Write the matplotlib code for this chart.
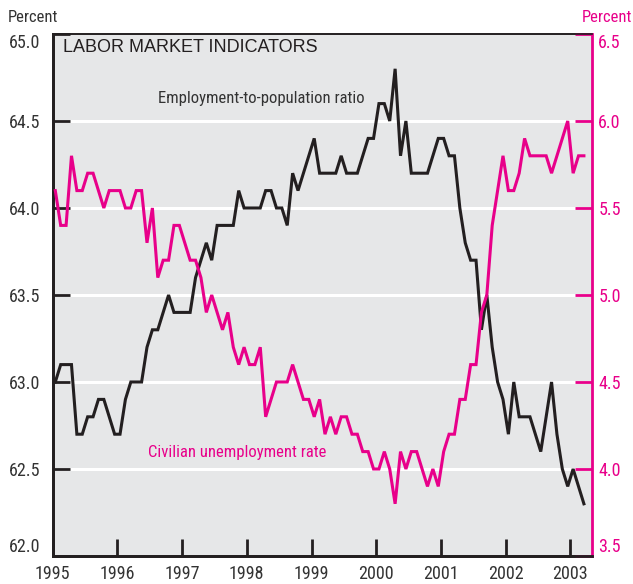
import matplotlib
matplotlib.use("Agg")
import matplotlib.pyplot as plt
from matplotlib import font_manager as fm
import numpy as np

# ---- data (monthly, Jan 1995 - Mar 2003) ----
start_year = 1995
employment_to_population = [
    63.0, 63.1, 63.1, 63.1, 62.7, 62.7, 62.8, 62.8, 62.9, 62.9, 62.8, 62.7,  # 1995
    62.7, 62.9, 63.0, 63.0, 63.0, 63.2, 63.3, 63.3, 63.4, 63.5, 63.4, 63.4,  # 1996
    63.4, 63.4, 63.6, 63.7, 63.8, 63.7, 63.9, 63.9, 63.9, 63.9, 64.1, 64.0,  # 1997
    64.0, 64.0, 64.0, 64.1, 64.1, 64.0, 64.0, 63.9, 64.2, 64.1, 64.2, 64.3,  # 1998
    64.4, 64.2, 64.2, 64.2, 64.2, 64.3, 64.2, 64.2, 64.2, 64.3, 64.4, 64.4,  # 1999
    64.6, 64.6, 64.5, 64.8, 64.3, 64.5, 64.2, 64.2, 64.2, 64.2, 64.3, 64.4,  # 2000
    64.4, 64.3, 64.3, 64.0, 63.8, 63.7, 63.7, 63.3, 63.5, 63.2, 63.0, 62.9,  # 2001
    62.7, 63.0, 62.8, 62.8, 62.8, 62.7, 62.6, 62.8, 63.0, 62.7, 62.5, 62.4,  # 2002
    62.5, 62.4, 62.3,                                                        # 2003
]
unemployment_rate = [
    5.6, 5.4, 5.4, 5.8, 5.6, 5.6, 5.7, 5.7, 5.6, 5.5, 5.6, 5.6,  # 1995
    5.6, 5.5, 5.5, 5.6, 5.6, 5.3, 5.5, 5.1, 5.2, 5.2, 5.4, 5.4,  # 1996
    5.3, 5.2, 5.2, 5.1, 4.9, 5.0, 4.9, 4.8, 4.9, 4.7, 4.6, 4.7,  # 1997
    4.6, 4.6, 4.7, 4.3, 4.4, 4.5, 4.5, 4.5, 4.6, 4.5, 4.4, 4.4,  # 1998
    4.3, 4.4, 4.2, 4.3, 4.2, 4.3, 4.3, 4.2, 4.2, 4.1, 4.1, 4.0,  # 1999
    4.0, 4.1, 4.0, 3.8, 4.1, 4.0, 4.1, 4.1, 4.0, 3.9, 4.0, 3.9,  # 2000
    4.1, 4.2, 4.2, 4.4, 4.4, 4.6, 4.6, 4.9, 5.0, 5.4, 5.6, 5.8,  # 2001
    5.6, 5.6, 5.7, 5.9, 5.8, 5.8, 5.8, 5.8, 5.7, 5.8, 5.9, 6.0,  # 2002
    5.7, 5.8, 5.8,                                              # 2003
]
year_labels = ["1995", "1996", "1997", "1998", "1999", "2000", "2001", "2002", "2003"]
left_ticks = [62.0, 62.5, 63.0, 63.5, 64.0, 64.5, 65.0]
right_ticks = [3.5, 4.0, 4.5, 5.0, 5.5, 6.0, 6.5]

# ---- style ----
PINK = "#E8008A"
BLACK = "#231F20"
TXT = "#333333"
BG = "#E6E7E8"

installed = {f.name for f in fm.fontManager.ttflist}
narrow_family = None
for cand in ["Liberation Sans Narrow", "Arial Narrow", "Roboto Condensed",
             "Open Sans Condensed", "DejaVu Sans Condensed"]:
    if cand in installed:
        narrow_family = cand
        break
if narrow_family is None:
    narrow_family = "DejaVu Sans"
NARROW = dict(family=[narrow_family, "DejaVu Sans"], stretch="condensed")
REG = ["Liberation Sans", "DejaVu Sans"]
FS = 12
TFS = 13

months = np.arange(len(employment_to_population))
x = start_year + (months + 0.5) / 12.0

fig = plt.figure(figsize=(6.33, 5.84), dpi=100)
ax = fig.add_axes([52.6 / 633, 1 - 556 / 584, (592 - 52.6) / 633, (556 - 34) / 584])
ax.set_facecolor(BG)
ax2 = ax.twinx()

ax.set_xlim(1995, 2003 + 4 / 12)
ax.set_ylim(62.0, 65.0)
ax2.set_ylim(3.5, 6.5)

# grid lines
for v in left_ticks[1:-1]:
    ax.axhline(v, color="white", lw=2.2, zorder=1)

ax.plot(x, employment_to_population, color=BLACK, lw=2.2, zorder=3,
        solid_joinstyle="miter")
ax2.plot(x, unemployment_rate, color=PINK, lw=2.2, zorder=3,
         solid_joinstyle="miter")

# ticks
ax.set_yticks(left_ticks)
ax.set_yticklabels([f"{v:.1f}" for v in left_ticks], fontsize=TFS, color=TXT, **NARROW)
ax2.set_yticks(right_ticks)
ax2.set_yticklabels([f"{v:.1f}" for v in right_ticks], fontsize=TFS, color=PINK, **NARROW)
years = [int(y) for y in year_labels]
ax.set_xticks(years)
ax.set_xticklabels(year_labels, fontsize=TFS, color=TXT, **NARROW)

ax.tick_params(axis="y", direction="in", length=12.5, width=2, color=BLACK, pad=9)
ax2.tick_params(axis="y", direction="in", length=12.5, width=2, color=PINK, pad=4.5)
ax.tick_params(axis="x", direction="in", length=12, width=2, color=BLACK, pad=6.5)

lab = ax.get_yticklabels()
lab[0].set_va("bottom")
lab[-1].set_va("top")
lab2 = ax2.get_yticklabels()
lab2[0].set_va("bottom")
lab2[-1].set_va("top")

for a in (ax, ax2):
    for s in a.spines.values():
        s.set_linewidth(2)
        s.set_color(BLACK)
    a.spines["top"].set_linewidth(1.2)
ax2.spines["right"].set_color(PINK)
ax2.spines["right"].set_linewidth(2)
ax.spines["right"].set_visible(False)
ax2.spines["left"].set_color(BLACK)

# texts
fig.text(8 / 633, 1 - 17 / 584, "Percent", fontsize=FS, color=TXT,
         ha="left", va="center", **NARROW)
fig.text(632 / 633, 1 - 17 / 584, "Percent", fontsize=FS, color=PINK,
         ha="right", va="center", **NARROW)
ax.text(63 / 633, 1 - 47 / 584, "LABOR MARKET INDICATORS", transform=fig.transFigure,
        family=REG, fontsize=13, color=BLACK, ha="left", va="center")
ax.text(158 / 633, 1 - 98 / 584, "Employment-to-population ratio", transform=fig.transFigure,
        fontsize=FS, color=TXT, ha="left", va="center", **NARROW)
ax.text(148 / 633, 1 - 452 / 584, "Civilian unemployment rate", transform=fig.transFigure,
        fontsize=FS, color=PINK, ha="left", va="center", **NARROW)

fig.savefig("out.png", dpi=100)
